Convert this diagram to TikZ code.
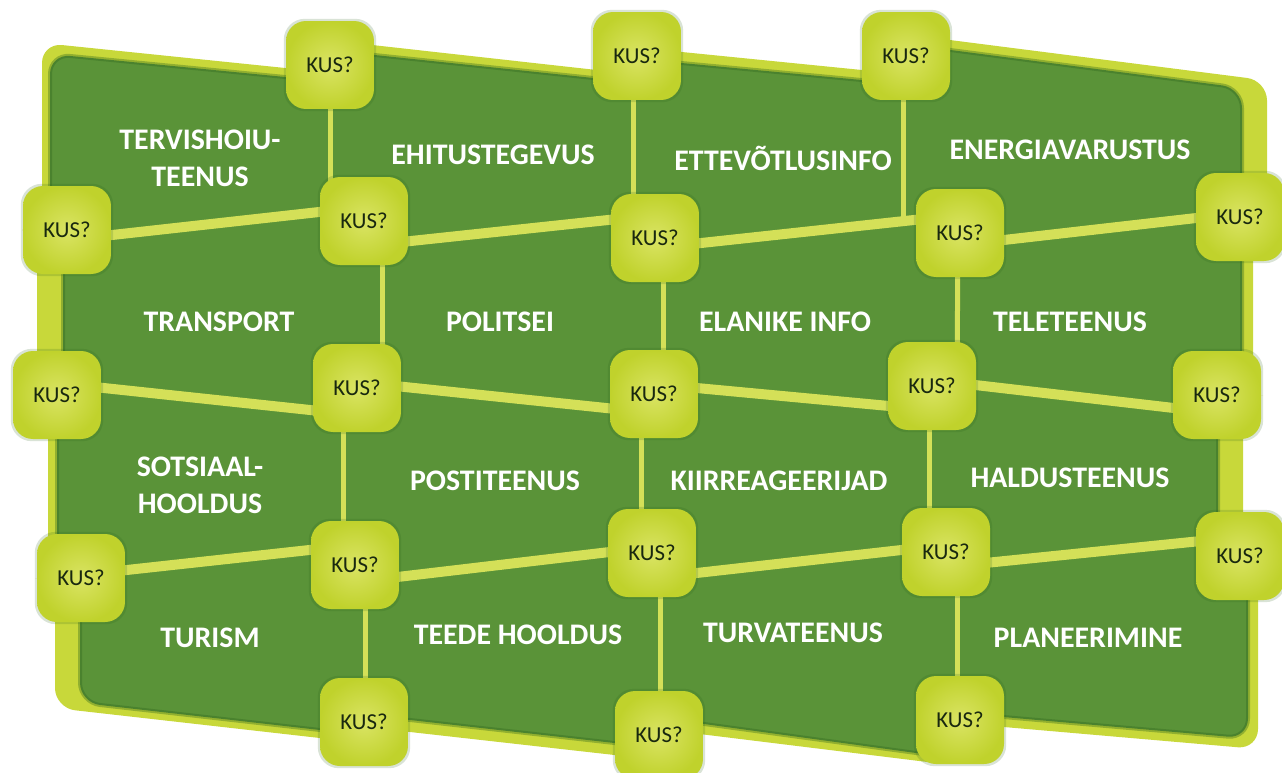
\documentclass[tikz,border=0pt]{standalone}
\usepackage{fontspec}
\setmainfont{Carlito}
\usetikzlibrary{shadows,calc}
\definecolor{dkgreen}{RGB}{90,147,56}
\definecolor{shadowgreen}{RGB}{45,100,28}
\definecolor{framec}{RGB}{200,216,58}
\definecolor{linec}{RGB}{212,224,88}
\definecolor{boxc}{RGB}{218,228,100}
\definecolor{boxe}{RGB}{192,210,44}
\definecolor{kustext}{RGB}{25,40,15}
\pgfdeclarelayer{bg}
\pgfsetlayers{bg,main}
\begin{document}
\begin{tikzpicture}[x=0.02cm,y=-0.02cm,
  kus/.style={rounded corners=0.4cm, minimum width=1.76cm, minimum height=1.76cm, inner sep=0pt,
    shade, inner color=boxc, outer color=boxe, text=kustext, font=\fontsize{13}{15}\selectfont,
    general shadow={fill=shadowgreen, opacity=0.18, shadow scale=1.05}},
  lbl/.style={text=white, font=\fontsize{17}{21}\selectfont\bfseries, align=center},
  hline/.style={draw=linec, line width=0.2cm},
  vline/.style={draw=linec, line width=0.1cm},
  framefill/.style={fill=framec, rounded corners=0.4cm},
  innerfill/.style={fill=dkgreen, draw=shadowgreen, draw opacity=0.35, line width=0.08cm, rounded corners=0.4cm}
]
\useasboundingbox (0,0) rectangle (1282,772);

% boxes
\node[kus] (A0) at (330,65) {KUS?};
\node[kus] (B0) at (637,56) {KUS?};
\node[kus] (C0) at (906,56) {KUS?};
\node[kus] (L1) at (67,230) {KUS?};
\node[kus] (A1) at (364,221) {KUS?};
\node[kus] (B1) at (655,238) {KUS?};
\node[kus] (C1) at (960,233) {KUS?};
\node[kus] (R1) at (1240,217) {KUS?};
\node[kus] (L2) at (57,395) {KUS?};
\node[kus] (A2) at (357,388) {KUS?};
\node[kus] (B2) at (654,394) {KUS?};
\node[kus] (C2) at (932,386) {KUS?};
\node[kus] (R2) at (1217,395) {KUS?};
\node[kus] (L3) at (81,578) {KUS?};
\node[kus] (A3) at (355,565) {KUS?};
\node[kus] (B3) at (652,553) {KUS?};
\node[kus] (C3) at (946,552) {KUS?};
\node[kus] (R3) at (1240,556) {KUS?};
\node[kus] (A4) at (364,722) {KUS?};
\node[kus] (B4) at (659,735) {KUS?};
\node[kus] (C4) at (960,720) {KUS?};

% labels
\node[lbl] (t1) at (200,158) {TERVISHOIU-\\TEENUS};
\node[lbl] (t2) at (493,155) {EHITUSTEGEVUS};
\node[lbl] (t3) at (783,158) {ETTEVÕTLUSINFO};
\node[lbl] (t4) at (1070,150) {ENERGIAVARUSTUS};
\node[lbl] (t5) at (219,322) {TRANSPORT};
\node[lbl] (t6) at (500,322) {POLITSEI};
\node[lbl] (t7) at (785,322) {ELANIKE INFO};
\node[lbl] (t8) at (1070,322) {TELETEENUS};
\node[lbl] (t9) at (200,485) {SOTSIAAL-\\HOOLDUS};
\node[lbl] (t10) at (495,481) {POSTITEENUS};
\node[lbl] (t11) at (779,481) {KIIRREAGEERIJAD};
\node[lbl] (t12) at (1070,478) {HALDUSTEENUS};
\node[lbl] (t13) at (210,638) {TURISM};
\node[lbl] (t14) at (518,635) {TEEDE HOOLDUS};
\node[lbl] (t15) at (793,633) {TURVATEENUS};
\node[lbl] (t16) at (1088,638) {PLANEERIMINE};

\coordinate (c0end) at (903,221);

\begin{pgfonlayer}{bg}
\fill[white] (0,0) rectangle (1282,772);
% frame
\path[framefill] (42,43) -- (330,72.6) -- (330,40.3) -- (637,74.5) -- (637,47.5) -- (906,74.4) -- (906,34.4)
  -- (1267,80.5) -- (1267,217) -- (1253,217) -- (1253,395) -- (1243,395) -- (1243,556) -- (1258,556)
  -- (1258,749) -- (960,723.2) -- (960,766) -- (659,729) -- (659,760) -- (364,726.8) -- (364,743)
  -- (55,708) -- (55,578) -- (48,578) -- (48,395) -- (37,395) -- (37,230) -- (42,230) -- cycle;
\path[innerfill] (50,54) -- (330,81.4) -- (330,50.3) -- (637,82.6) -- (637,58.8) -- (906,84.2) -- (906,44.2)
  -- (1242,88) -- (1242,395) -- (1218,395) -- (1218,556) -- (1248,556)
  -- (1248,738.4) -- (960,713.2) -- (960,759) -- (659,717.8) -- (659,748) -- (364,714.8) -- (364,735)
  -- (80,702.7) -- (80,578) -- (57,578) -- (57,395) -- (63,395) -- (63,230) -- (50,230) -- cycle;
% horizontal connectors
\draw[hline] ($(L1.center)+(0,10)$) -- ($(A1.center)+(0,-14)$);
\draw[hline] ($(A1.center)+(0,25)$) -- ($(B1.center)+(0,-23)$);
\draw[hline] ($(B1.center)+(0,10)$) -- ($(C1.center)+(0,-18)$);
\draw[hline] ($(C1.center)+(0,12)$) -- ($(R1.center)+(0,-4)$);
\draw[hline] ($(L2.center)+(0,-12)$) -- ($(A2.center)+(0,27)$);
\draw[hline] ($(A2.center)+(0,-6)$) -- ($(B2.center)+(0,19)$);
\draw[hline] ($(B2.center)+(0,-10)$) -- ($(C2.center)+(0,24)$);
\draw[hline] ($(C2.center)+(0,-6)$) -- ($(R2.center)+(0,18)$);
\draw[hline] ($(L3.center)+(0,-3)$) -- ($(A3.center)+(0,-20)$);
\draw[hline] ($(A3.center)+(0,17)$) -- ($(B3.center)+(0,-6)$);
\draw[hline] ($(B3.center)+(0,25)$) -- ($(C3.center)+(0,-7)$);
\draw[hline] ($(C3.center)+(0,15)$) -- ($(R3.center)+(0,-19)$);
% vertical connectors
\draw[vline] (A0.center) -- ($(A1.center)+(-34,0)$);
\draw[vline] ($(A1.center)+(18,0)$) -- ($(A2.center)+(25,0)$);
\draw[vline] ($(A2.center)+(-14,0)$) -- ($(A3.center)+(-12,0)$);
\draw[vline] ($(A3.center)+(10,0)$) -- ($(A4.center)+(1,0)$);
\draw[vline] ($(B0.center)+(-4,0)$) -- ($(B1.center)+(-22,0)$);
\draw[vline] ($(B1.center)+(8,0)$) -- ($(B2.center)+(9,0)$);
\draw[vline] ($(B2.center)+(-13,0)$) -- ($(B3.center)+(-11,0)$);
\draw[vline] ($(B3.center)+(8,0)$) -- ($(B4.center)+(1,0)$);
\draw[vline] ($(C0.center)+(-3,0)$) -- (c0end);
\draw[vline] ($(C1.center)+(-2,0)$) -- ($(C2.center)+(25,0)$);
\draw[vline] ($(C2.center)+(-3,0)$) -- ($(C3.center)+(-17,0)$);
\draw[vline] ($(C3.center)+(11,0)$) -- ($(C4.center)+(-3,0)$);
\end{pgfonlayer}
\end{tikzpicture}
\end{document}
